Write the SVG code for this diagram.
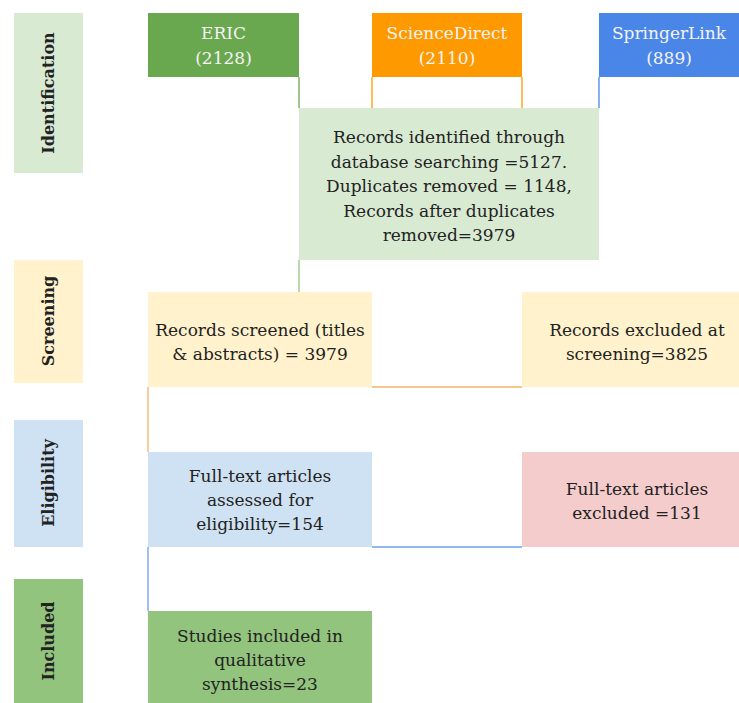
<svg xmlns="http://www.w3.org/2000/svg" width="739" height="703" viewBox="0 0 739 703">
<style>
text{font-family:"DejaVu Serif","Liberation Serif",serif;font-size:17px;fill:#222;text-anchor:middle}
.side{font-weight:bold;font-size:16px}
.src{fill:#f3f3f3}
.c{fill:none;stroke-width:1.3}
</style>
<rect width="739" height="703" fill="#fff"/>
<g id="lbl-identification"><rect x="14" y="13" width="69" height="160" fill="#d9ead3"/><text class="side" transform="translate(54,93) rotate(-90)">Identification</text></g>
<g id="lbl-screening"><rect x="14" y="260" width="69" height="123" fill="#fff2cc"/><text class="side" transform="translate(54,321) rotate(-90)">Screening</text></g>
<g id="lbl-eligibility"><rect x="14" y="420" width="69" height="127" fill="#cfe2f3"/><text class="side" transform="translate(54,483) rotate(-90)">Eligibility</text></g>
<g id="lbl-included"><rect x="14" y="579" width="69" height="124" fill="#93c47d"/><text class="side" transform="translate(54,641) rotate(-90)">Included</text></g>

<g id="connectors">
<path class="c" stroke="#6aa84f" d="M299,77V108"/>
<path class="c" stroke="#ff9900" d="M372,77V108M522,77V108"/>
<path class="c" stroke="#4a86e8" d="M599,77V108"/>
<path class="c" stroke="#93c47d" d="M299,260V292"/>
<path class="c" stroke="#f6b26b" d="M372,387H522M148,387V452"/>
<path class="c" stroke="#6d9eeb" d="M372,547H522M148,547V611"/>
</g>

<g id="eric"><rect x="148" y="13" width="151" height="64" fill="#6aa84f"/><text class="src" x="223.5" y="39">ERIC</text><text class="src" x="223.5" y="64">(2128)</text></g>
<g id="sciencedirect"><rect x="372" y="13" width="150" height="64" fill="#ff9900"/><text class="src" x="447" y="39">ScienceDirect</text><text class="src" x="447" y="64">(2110)</text></g>
<g id="springerlink"><rect x="599" y="13" width="140" height="64" fill="#4a86e8"/><text class="src" x="669" y="39">SpringerLink</text><text class="src" x="669" y="64">(889)</text></g>

<g id="identified"><rect x="299" y="108" width="300" height="152" fill="#d9ead3"/>
<text x="449" y="143">Records identified through</text>
<text x="449" y="167.5">database searching =5127.</text>
<text x="449" y="192">Duplicates removed = 1148,</text>
<text x="449" y="216.5">Records after duplicates</text>
<text x="449" y="241">removed=3979</text></g>

<g id="screened"><rect x="148" y="292" width="224" height="95" fill="#fff2cc"/>
<text x="260" y="336">Records screened (titles</text>
<text x="260" y="360">&amp; abstracts) = 3979</text></g>

<g id="excluded-screening"><rect x="522" y="292" width="217" height="95" fill="#fff2cc"/>
<text x="637" y="336">Records excluded at</text>
<text x="637" y="360">screening=3825</text></g>

<g id="assessed"><rect x="148" y="452" width="224" height="95" fill="#cfe2f3"/>
<text x="260" y="482">Full-text articles</text>
<text x="260" y="506">assessed for</text>
<text x="260" y="530">eligibility=154</text></g>

<g id="excluded-fulltext"><rect x="522" y="452" width="217" height="95" fill="#f4cccc"/>
<text x="637" y="495">Full-text articles</text>
<text x="637" y="519">excluded =131</text></g>

<g id="included"><rect x="148" y="611" width="224" height="92" fill="#93c47d"/>
<text x="260" y="642">Studies included in</text>
<text x="260" y="666">qualitative</text>
<text x="260" y="690">synthesis=23</text></g>
</svg>
